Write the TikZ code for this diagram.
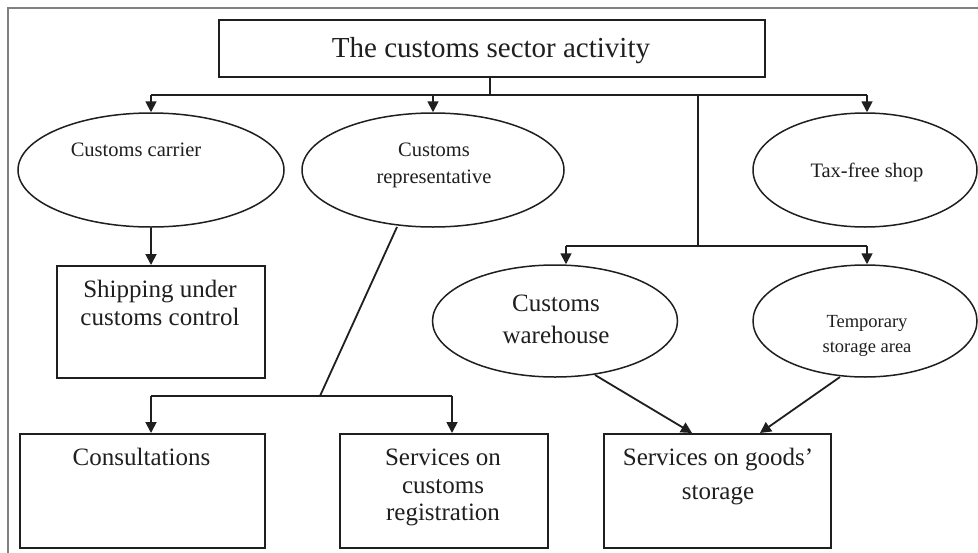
\documentclass[tikz,border=0pt]{standalone}
\usepackage{fontspec}
\setmainfont{Liberation Serif}
\usetikzlibrary{arrows.meta,shapes.geometric,calc}
\tikzset{
  ln/.style={line width=1.8pt, draw=black!88},
  arr/.style={ln, -{Triangle[length=11pt,width=11pt]}},
  boxshape/.style={draw=black!88, line width=1.9pt, rectangle, inner sep=0pt, anchor=north west},
  ellshape/.style={draw=black!88, line width=1.5pt, ellipse, inner sep=0pt},
  txt/.style={anchor=base, inner sep=0pt, text=black!88},
}
\newcommand{\fsz}[2]{\fontsize{#1pt}{#2pt}\selectfont}
\begin{document}
\begin{tikzpicture}[x=1pt,y=-1pt]
\useasboundingbox (0,0) rectangle (978,552);
\fill[white] (0,0) rectangle (978,552);
% frame
\draw[line width=1.4pt, draw=black!50] (8,560) -- (8,8) -- (990,8);

% title
\node[boxshape, minimum width=546pt, minimum height=57pt] (title) at (218,19) {};
\node[txt] (titletxt) at (491,57) {\fsz{29}{32}The customs sector activity};

% ellipses top row
\node[ellshape, minimum width=266pt, minimum height=114pt] (carrier) at (151,170) {};
\node[txt] (carriertxt) at (136,156) {\fsz{20.5}{24}Customs carrier};
\node[ellshape, minimum width=262pt, minimum height=114pt] (rep) at (433,170) {};
\node[txt] (reptxt1) at (434,156) {\fsz{20.5}{24}Customs};
\node[txt] (reptxt2) at (434,183) {\fsz{20.5}{24}representative};
\node[ellshape, minimum width=224pt, minimum height=114pt] (shop) at (865,170) {};
\node[txt] (shoptxt) at (867,177) {\fsz{20.5}{24}Tax-free shop};

% second row ellipses
\node[ellshape, minimum width=245pt, minimum height=112pt] (ware) at (555,321) {};
\node[txt] (waretxt1) at (556,311) {\fsz{25}{28}Customs};
\node[txt] (waretxt2) at (556,343) {\fsz{25}{28}warehouse};
\node[ellshape, minimum width=224pt, minimum height=112pt] (temp) at (865,321) {};
\node[txt] (temptxt1) at (867,327) {\fsz{18.5}{22}Temporary};
\node[txt] (temptxt2) at (867,352) {\fsz{18.5}{22}storage area};

% boxes
\node[boxshape, minimum width=208pt, minimum height=112pt] (ship) at (56,265) {};
\node[txt] (shiptxt1) at (160,297) {\fsz{25}{28}Shipping under};
\node[txt] (shiptxt2) at (160,325) {\fsz{25}{28}customs control};

\node[boxshape, minimum width=245pt, minimum height=114pt] (cons) at (19,433) {};
\node[txt] (constxt) at (141.5,465) {\fsz{25}{28}Consultations};

\node[boxshape, minimum width=208pt, minimum height=114pt] (reg) at (339,433) {};
\node[txt] (regtxt1) at (443,465) {\fsz{25}{28}Services on};
\node[txt] (regtxt2) at (443,493) {\fsz{25}{28}customs};
\node[txt] (regtxt3) at (443,520) {\fsz{25}{28}registration};

\node[boxshape, minimum width=227pt, minimum height=114pt] (stor) at (603,433) {};
\node[txt] (stortxt1) at (718,465) {\fsz{25}{28}Services on goods’};
\node[txt] (stortxt2) at (718,499) {\fsz{25}{28}storage};

% connectors from title
\coordinate (t0) at (490,95);
\coordinate (tl) at (151,95);
\coordinate (tm) at (433,95);
\coordinate (tr) at (867,95);
\coordinate (tv) at (698,95);
\coordinate (tvb) at (698,246);
\coordinate (tvl) at (566,246);
\coordinate (tvr) at (867,246);
\draw[ln] (title.south -| t0) -- (t0);
\draw[ln] (tl) -- (tr);
\draw[arr] (tl) -- (tl |- carrier.north);
\draw[arr] (tm) -- (tm |- rep.north);
\draw[arr] (tr) -- (tr |- shop.north);
\draw[ln] (tv) -- (tvb);
\draw[ln] (tvl) -- (tvr);
\draw[arr] (tvl) -- (tvl |- ware.north);
\draw[arr] (tvr) -- (tvr |- temp.north);

% carrier -> shipping
\draw[arr] (carrier.south) -- (ship.north -| carrier.south);

% representative -> split
\coordinate (r0) at (397,227);
\coordinate (rj) at (320,396);
\coordinate (rl) at (151,396);
\coordinate (rr) at (452,396);
\draw[ln] (r0) -- (rj);
\draw[ln] (rl) -- (rr);
\draw[arr] (rl) -- (rl |- cons.north);
\draw[arr] (rr) -- (rr |- reg.north);

% storage arrows
\coordinate (w0) at (595,375);
\coordinate (s1) at (692,433);
\coordinate (p0) at (840,377);
\coordinate (s2) at (760,433);
\draw[arr] (w0) -- (s1);
\draw[arr] (p0) -- (s2);
\end{tikzpicture}
\end{document}
